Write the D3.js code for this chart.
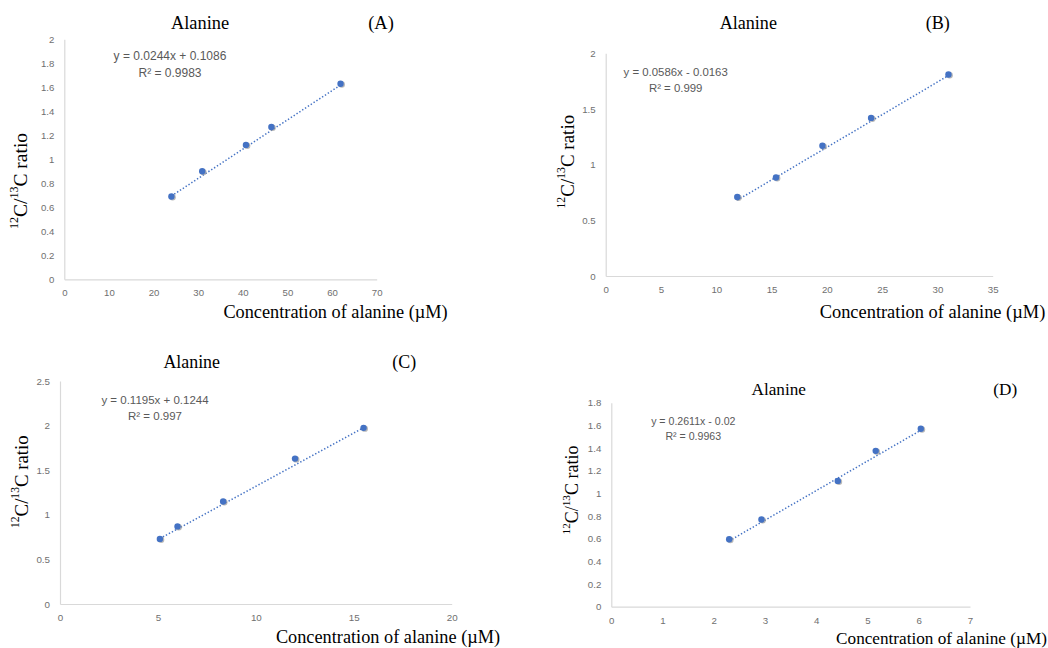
<!DOCTYPE html>
<html>
<head>
<meta charset="utf-8">
<script src="https://cdn.jsdelivr.net/npm/d3@7"></script>
<style>
  html, body { margin: 0; padding: 0; background: #fff; }
  svg { display: block; }
</style>
</head>
<body>
<svg id="chart" width="1048" height="648"></svg>
<script>
// Calibration data: alanine concentration (µM) vs 12C/13C ratio
const panelIds = ["A", "B", "C", "D"];
const titles = ["Alanine", "Alanine", "Alanine", "Alanine"];

const concA = [24.0, 30.9, 40.7, 46.4, 61.9];
const ratioA = [0.69, 0.90, 1.12, 1.27, 1.63];
const concB = [11.9, 15.4, 19.6, 24.0, 31.0];
const ratioB = [0.71, 0.885, 1.17, 1.42, 1.81];
const concC = [5.1, 6.0, 8.33, 12.0, 15.5];
const ratioC = [0.73, 0.87, 1.15, 1.63, 1.975];
const concD = [2.3, 2.93, 4.42, 5.16, 6.04];
const ratioD = [0.595, 0.77, 1.11, 1.375, 1.57];

// Linear trendline coefficients and fit quality
const slopes = [0.0244, 0.0586, 0.1195, 0.2611];
const intercepts = [0.1086, -0.0163, 0.1244, -0.02];
const slopeText = ["0.0244", "0.0586", "0.1195", "0.2611"];
const interceptText = ["0.1086", "0.0163", "0.1244", "0.02"];
const rSquared = ["0.9983", "0.999", "0.997", "0.9963"];

// Axis tick values
const xTicksA = [0, 10, 20, 30, 40, 50, 60, 70];
const yTicksA = [0, 0.2, 0.4, 0.6, 0.8, 1, 1.2, 1.4, 1.6, 1.8, 2];
const xTicksB = [0, 5, 10, 15, 20, 25, 30, 35];
const yTicksB = [0, 0.5, 1, 1.5, 2];
const xTicksC = [0, 5, 10, 15, 20];
const yTicksC = [0, 0.5, 1, 1.5, 2, 2.5];
const xTicksD = [0, 1, 2, 3, 4, 5, 6, 7];
const yTicksD = [0, 0.2, 0.4, 0.6, 0.8, 1, 1.2, 1.4, 1.6, 1.8];

const xLabel = "Concentration of alanine (µM)";

const seriesX = [concA, concB, concC, concD];
const seriesY = [ratioA, ratioB, ratioC, ratioD];
const xTicks = [xTicksA, xTicksB, xTicksC, xTicksD];
const yTicks = [yTicksA, yTicksB, yTicksC, yTicksD];

// Placement of each panel on the page
const layout = [
  { x0: 64.3, x1: 376.7, yTop: 39.3, yBot: 279.3,
    title: [200, 22.7, 18.4], tag: [381, 22.7], eq: [170, 56, 12], r2y: 72.7,
    ylab: [20, 181, 19.5], xlab: [335.5, 311.7, 18.3], tick: 9.6 },
  { x0: 605.7, x1: 992.7, yTop: 53.3, yBot: 276,
    title: [748.3, 23.3, 18.1], tag: [937.7, 23.3], eq: [675.7, 71.7, 11.4], r2y: 87.7,
    ylab: [566.7, 161.7, 19], xlab: [932.5, 311.7, 18.4], tick: 9.7 },
  { x0: 60, x1: 451.7, yTop: 381, yBot: 604,
    title: [191.7, 362.3, 17.9], tag: [404.3, 362.3], eq: [155, 400, 11.5], r2y: 415.7,
    ylab: [20.7, 481.7, 18.8], xlab: [388, 636.7, 18.3], tick: 9.8 },
  { x0: 611.3, x1: 970, yTop: 402.7, yBot: 606.7,
    title: [778.7, 389, 17.2], tag: [1005.3, 389], eq: [693.3, 421, 10.6], r2y: 436,
    ylab: [571.7, 490, 18], xlab: [941.5, 638.3, 17.2], tick: 9.7 }
];

const svg = d3.select("#chart");
const serif = "'Liberation Serif', 'Times New Roman', serif";
const sans = "'Liberation Sans', Arial, sans-serif";
const blue = "#4472C4";
const axisGray = "#d9d9d9";
const tickGray = "#6f6f6f";
const eqGray = "#595959";

panelIds.forEach((id, i) => {
  const L = layout[i];
  const xt = xTicks[i], yt = yTicks[i];
  const x = d3.scaleLinear().domain([0, xt[xt.length - 1]]).range([L.x0, L.x1]);
  const y = d3.scaleLinear().domain([0, yt[yt.length - 1]]).range([L.yBot, L.yTop]);
  const g = svg.append("g").attr("class", "panel-" + id);

  // Left axis
  const yAxis = d3.axisLeft(y).tickValues(yt).tickSize(0).tickPadding(10)
    .tickFormat(d => d3.format("~g")(+d.toFixed(2)));
  const ya = g.append("g").attr("transform", `translate(${L.x0},0)`).call(yAxis);
  ya.select(".domain").attr("stroke", axisGray).attr("stroke-width", 1.2);
  ya.selectAll("text").attr("fill", tickGray).attr("font-family", sans)
    .attr("font-size", L.tick);

  // Bottom axis
  const xAxis = d3.axisBottom(x).tickValues(xt).tickSize(0).tickPadding(10)
    .tickFormat(d3.format("d"));
  const xa = g.append("g").attr("transform", `translate(0,${L.yBot})`).call(xAxis);
  xa.select(".domain").attr("stroke", axisGray).attr("stroke-width", 1.2);
  xa.selectAll("text").attr("fill", tickGray).attr("font-family", sans)
    .attr("font-size", L.tick);

  // Dotted linear trendline spanning the measured range
  const xs = seriesX[i], ys = seriesY[i];
  const [xmin, xmax] = d3.extent(xs);
  const fit = [xmin, xmax].map(v => ({ x: v, y: slopes[i] * v + intercepts[i] }));
  g.append("path")
    .datum(fit)
    .attr("fill", "none")
    .attr("stroke", blue)
    .attr("stroke-width", 1.5)
    .attr("stroke-dasharray", "1.4 2")
    .attr("d", d3.line().x(d => x(d.x)).y(d => y(d.y)));

  // Markers with a faint drop shadow
  const pts = xs.map((v, k) => ({ x: v, y: ys[k] }));
  g.selectAll("circle.shadow").data(pts).join("circle")
    .attr("class", "shadow")
    .attr("cx", d => x(d.x) + 1.2).attr("cy", d => y(d.y) + 0.8)
    .attr("r", 3.2).attr("fill", "#9a9a9a").attr("opacity", 0.7);
  g.selectAll("circle.pt").data(pts).join("circle")
    .attr("class", "pt")
    .attr("cx", d => x(d.x)).attr("cy", d => y(d.y))
    .attr("r", 3.2).attr("fill", blue);

  // Title and panel tag
  g.append("text").attr("x", L.title[0]).attr("y", L.title[1])
    .attr("text-anchor", "middle").attr("dominant-baseline", "central")
    .attr("font-family", serif).attr("font-size", L.title[2]).attr("fill", "#000")
    .text(titles[i]);
  g.append("text").attr("x", L.tag[0]).attr("y", L.tag[1])
    .attr("text-anchor", "middle").attr("dominant-baseline", "central")
    .attr("font-family", serif).attr("font-size", L.title[2]).attr("fill", "#000")
    .text("(" + id + ")");

  // Trendline equation and R²
  const sign = intercepts[i] < 0 ? "-" : "+";
  g.append("text").attr("x", L.eq[0]).attr("y", L.eq[1])
    .attr("text-anchor", "middle").attr("dominant-baseline", "central")
    .attr("font-family", sans).attr("font-size", L.eq[2]).attr("fill", eqGray)
    .text(`y = ${slopeText[i]}x ${sign} ${interceptText[i]}`);
  const r2 = g.append("text").attr("x", L.eq[0]).attr("y", L.r2y)
    .attr("text-anchor", "middle").attr("dominant-baseline", "central")
    .attr("font-family", sans).attr("font-size", L.eq[2]).attr("fill", eqGray);
  r2.append("tspan").text("R²");
  r2.append("tspan").text(" = " + rSquared[i]);

  // Axis titles
  const fs = L.ylab[2];
  const yl = g.append("text")
    .attr("transform", `translate(${L.ylab[0]},${L.ylab[1]}) rotate(-90)`)
    .attr("text-anchor", "middle").attr("dominant-baseline", "central")
    .attr("font-family", serif).attr("font-size", fs).attr("fill", "#000");
  yl.append("tspan").attr("font-size", fs * 0.62).attr("dy", -fs * 0.3).text("12");
  yl.append("tspan").attr("dy", fs * 0.3).text("C/");
  yl.append("tspan").attr("font-size", fs * 0.62).attr("dy", -fs * 0.3).text("13");
  yl.append("tspan").attr("dy", fs * 0.3).text("C ratio");

  g.append("text").attr("x", L.xlab[0]).attr("y", L.xlab[1])
    .attr("text-anchor", "middle").attr("dominant-baseline", "central")
    .attr("font-family", serif).attr("font-size", L.xlab[2]).attr("fill", "#000")
    .text(xLabel);
});
</script>
</body>
</html>
